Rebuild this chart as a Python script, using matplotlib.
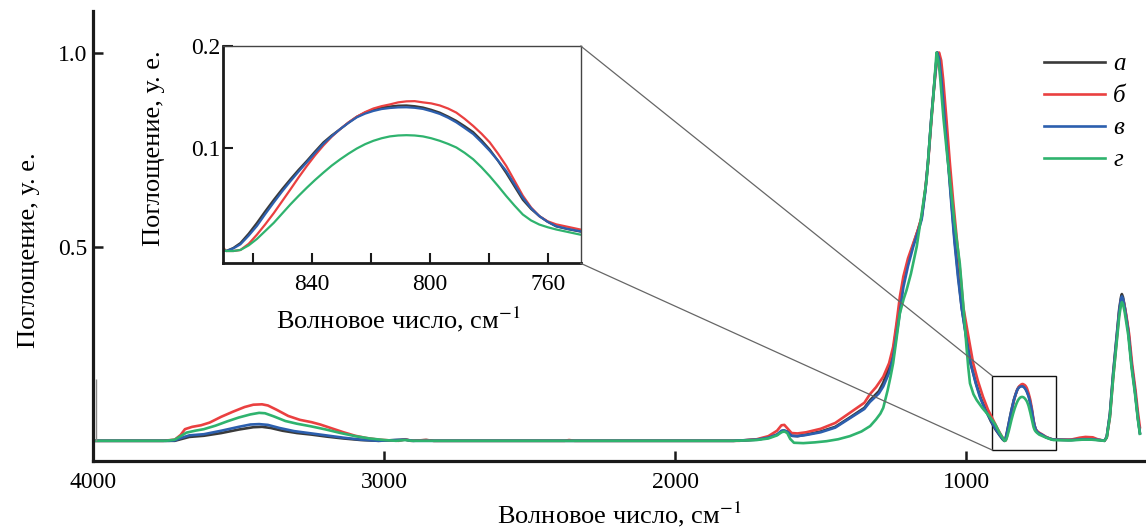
import matplotlib
matplotlib.use("Agg")
import matplotlib.pyplot as plt
from matplotlib.patches import Rectangle, ConnectionPatch

plt.rcParams['font.family'] = ['Liberation Serif', 'DejaVu Serif']
plt.rcParams['mathtext.fontset'] = 'stix'

# ---------------- data ----------------
labels = ['а', 'б', 'в', 'г']
colors = ['#3a3a3a', '#ea4040', '#2c5fae', '#2fb36e']

inset_wn = [869, 866.6, 864.2, 861.4, 858.6, 855.8, 852.9, 850.1, 847.3, 844.5, 841.7,
            838.9, 836.1, 833.3, 830.4, 827.6, 824.8, 822.0, 819.2, 816.4, 813.6, 810.8,
            808.0, 805.2, 802.4, 799.6, 796.7, 793.9, 791.1, 788.3, 785.4, 782.6, 779.8,
            777.0, 774.2, 771.4, 768.6, 765.8, 763.0, 760.2, 757.3, 753.3, 749.2]

inset_a = [0.0, 0.003, 0.0078, 0.017, 0.0275, 0.0388, 0.050, 0.0603, 0.070, 0.0793, 0.088,
           0.0972, 0.106, 0.1128, 0.119, 0.1253, 0.131, 0.135, 0.138, 0.140, 0.141, 0.1418,
           0.142, 0.1413, 0.140, 0.1378, 0.135, 0.1312, 0.127, 0.1218, 0.116, 0.108, 0.099,
           0.088, 0.076, 0.063, 0.050, 0.041, 0.034, 0.0285, 0.024, 0.0213, 0.019]
inset_b = [0.0, 0.0, 0.001, 0.007, 0.016, 0.026, 0.037, 0.0485, 0.060, 0.0718, 0.083,
           0.0935, 0.103, 0.1115, 0.119, 0.1255, 0.131, 0.1355, 0.139, 0.1413, 0.143, 0.145,
           0.146, 0.1462, 0.145, 0.144, 0.142, 0.139, 0.135, 0.129, 0.122, 0.1145, 0.106,
           0.095, 0.083, 0.0685, 0.054, 0.0425, 0.034, 0.029, 0.026, 0.0235, 0.021]
inset_c = [0.0, 0.0025, 0.0065, 0.015, 0.0245, 0.036, 0.0474, 0.058, 0.068, 0.0775, 0.0866,
           0.0958, 0.1046, 0.112, 0.119, 0.125, 0.1304, 0.134, 0.1366, 0.1385, 0.1395, 0.1401,
           0.1402, 0.1397, 0.1386, 0.1364, 0.1337, 0.130, 0.1255, 0.120, 0.1141, 0.1062, 0.0977,
           0.0882, 0.078, 0.065, 0.052, 0.0418, 0.034, 0.0285, 0.0242, 0.0215, 0.0193]
inset_d = [0.0, 0.0, 0.001, 0.0055, 0.0118, 0.0195, 0.0275, 0.0365, 0.0454, 0.0538, 0.0618,
           0.0694, 0.0765, 0.0833, 0.0895, 0.095, 0.100, 0.1042, 0.1075, 0.110, 0.1118, 0.1127,
           0.113, 0.1127, 0.1118, 0.110, 0.1075, 0.1045, 0.101, 0.0958, 0.0895, 0.0817, 0.073,
           0.0635, 0.0536, 0.0443, 0.0356, 0.0298, 0.0258, 0.0232, 0.021, 0.0185, 0.016]

# curve а (black)
wn_a = ([4000, 3760, 3720, 3700, 3670, 3620, 3560, 3500, 3450, 3420, 3390, 3350, 3300, 3250,
         3200, 3140, 3080, 3020, 2928, 2900, 2856, 2830, 1800, 1720, 1680, 1650, 1630, 1615,
         1600, 1580, 1550, 1500, 1450, 1400, 1350, 1330, 1300, 1285, 1265, 1251, 1240, 1228,
         1216, 1200, 1182, 1165, 1153, 1140, 1131, 1120, 1113, 1105, 1099, 1092, 1085, 1075,
         1062, 1050, 1040, 1028, 1015, 1000, 985, 965, 950, 930, 915, 900, 885, 875]
        + inset_wn +
        [740, 725, 710, 700, 650, 600, 570, 540, 525, 517, 506, 495, 483, 474, 468, 465, 461,
         455, 443, 432, 420, 410, 403])
abs_a = ([0, 0, 0.0, 0.004, 0.010, 0.013, 0.020, 0.029, 0.035, 0.036, 0.033, 0.026, 0.020, 0.016,
          0.011, 0.006, 0.002, 0.0, 0.003, 0.0, 0.002, 0.0, 0.0, 0.003, 0.008, 0.016, 0.026, 0.024,
          0.013, 0.012, 0.016, 0.024, 0.036, 0.060, 0.085, 0.105, 0.128, 0.150, 0.19, 0.23, 0.29, 0.35,
          0.41, 0.46, 0.505, 0.545, 0.575, 0.65, 0.72, 0.83, 0.89, 0.96, 1.0, 0.98, 0.93, 0.84,
          0.72, 0.61, 0.52, 0.43, 0.34, 0.27, 0.2, 0.145, 0.11, 0.075, 0.05, 0.03, 0.014, 0.004]
         + inset_a +
         [0.015, 0.009, 0.005, 0.003, 0.002, 0.004, 0.004, 0.002, 0.0, 0.01, 0.07, 0.174, 0.268,
          0.34, 0.37, 0.378, 0.37, 0.345, 0.285, 0.2, 0.13, 0.06, 0.02])

# curve б (red)
wn_b = ([4000, 3760, 3720, 3700, 3685, 3660, 3630, 3600, 3560, 3520, 3480, 3450, 3420, 3400,
         3370, 3330, 3290, 3250, 3220, 3180, 3140, 3100, 3060, 3020, 2980, 2950, 2928, 2910,
         2856, 2830, 2380, 2365, 2345, 1780, 1720, 1680, 1650, 1635, 1625, 1612, 1600, 1580,
         1550, 1500, 1450, 1400, 1350, 1331, 1310, 1285, 1265, 1251, 1240, 1228, 1216, 1200,
         1182, 1165, 1153, 1140, 1131, 1120, 1113, 1105, 1097, 1093, 1086, 1079, 1068, 1056,
         1045, 1033, 1020, 1010, 995, 976, 960, 942, 925, 907, 890, 878, 870]
        + inset_wn +
        [740, 725, 710, 700, 640, 610, 590, 565, 545, 525, 517, 506, 495, 483, 474, 468, 463,
         458, 450, 440, 430, 418, 410, 403])
abs_b = ([0, 0, 0.003, 0.015, 0.030, 0.036, 0.040, 0.047, 0.062, 0.075, 0.087, 0.093, 0.094, 0.091,
          0.080, 0.064, 0.054, 0.048, 0.042, 0.032, 0.022, 0.013, 0.007, 0.003, 0.001, 0.0, 0.004, 0.0,
          0.002, 0.0, 0.0, 0.002, 0.0, 0.0, 0.004, 0.012, 0.026, 0.040, 0.041, 0.030, 0.020, 0.019,
          0.022, 0.031, 0.046, 0.072, 0.098, 0.12, 0.138, 0.165, 0.20, 0.242, 0.30, 0.371, 0.423, 0.47,
          0.509, 0.545, 0.577, 0.65, 0.715, 0.82, 0.887, 0.95, 0.995, 1.0, 0.98, 0.93, 0.83, 0.715,
          0.62, 0.526, 0.43, 0.345, 0.28, 0.2, 0.155, 0.113, 0.08, 0.053, 0.028, 0.012, 0.003]
         + inset_b +
         [0.017, 0.010, 0.005, 0.003, 0.003, 0.008, 0.010, 0.009, 0.003, 0.0, 0.008, 0.06, 0.16,
          0.258, 0.33, 0.36, 0.366, 0.356, 0.325, 0.275, 0.2, 0.13, 0.075, 0.035])

# curve в (blue)
wn_c = ([4000, 3740, 3720, 3700, 3670, 3620, 3560, 3500, 3460, 3430, 3400, 3360, 3310, 3260,
         3200, 3140, 3080, 3020, 2928, 2905, 1800, 1720, 1680, 1650, 1635, 1625, 1612, 1600,
         1580, 1550, 1500, 1450, 1400, 1350, 1331, 1300, 1285, 1265, 1251, 1240, 1228, 1216,
         1200, 1182, 1165, 1153, 1140, 1131, 1120, 1113, 1105, 1100, 1093, 1085, 1073, 1062,
         1050, 1040, 1028, 1016, 1000, 985, 968, 953, 935, 913, 900, 885, 875]
        + inset_wn +
        [740, 725, 710, 700, 640, 600, 570, 540, 525, 517, 506, 495, 483, 474, 468, 465, 461,
         455, 443, 432, 420, 410, 403])
abs_c = ([0, 0, 0.001, 0.007, 0.014, 0.017, 0.026, 0.036, 0.042, 0.043, 0.041, 0.033, 0.025, 0.020,
          0.014, 0.008, 0.003, 0.0, 0.003, 0.0, 0.0, 0.003, 0.008, 0.016, 0.026, 0.027, 0.022, 0.013,
          0.012, 0.015, 0.022, 0.034, 0.058, 0.082, 0.100, 0.122, 0.140, 0.175, 0.215, 0.27, 0.33, 0.395,
          0.45, 0.50, 0.54, 0.57, 0.645, 0.72, 0.83, 0.89, 0.96, 1.0, 0.985, 0.93, 0.82, 0.715,
          0.60, 0.51, 0.42, 0.345, 0.265, 0.2, 0.15, 0.113, 0.08, 0.05, 0.032, 0.015, 0.005]
         + inset_c +
         [0.016, 0.009, 0.005, 0.003, 0.002, 0.004, 0.004, 0.002, 0.0, 0.01, 0.068, 0.17, 0.265,
          0.335, 0.365, 0.372, 0.366, 0.342, 0.282, 0.198, 0.128, 0.06, 0.02])

# curve г (green)
wn_d = ([4000, 3750, 3720, 3700, 3680, 3650, 3620, 3580, 3540, 3500, 3460, 3430, 3410, 3380,
         3340, 3300, 3250, 3200, 3150, 3100, 3050, 3000, 2960, 2928, 2905, 1800, 1720, 1680,
         1650, 1635, 1625, 1615, 1605, 1592, 1560, 1520, 1480, 1440, 1400, 1360, 1330, 1310,
         1295, 1285, 1270, 1260, 1251, 1240, 1228, 1215, 1205, 1190, 1170, 1150, 1136, 1125,
         1113, 1106, 1102, 1096, 1090, 1078, 1066, 1056, 1040, 1022, 1010, 999, 993, 987, 975,
         964, 945, 919, 900, 885, 873]
        + inset_wn +
        [740, 725, 710, 700, 640, 600, 570, 540, 525, 517, 506, 495, 483, 474, 468, 465, 461,
         455, 443, 432, 420, 410, 403])
abs_d = ([0, 0, 0.003, 0.012, 0.021, 0.026, 0.030, 0.039, 0.050, 0.060, 0.068, 0.072, 0.071, 0.063,
          0.051, 0.044, 0.037, 0.029, 0.020, 0.012, 0.006, 0.002, 0.0, 0.002, 0.0, 0.0, 0.002, 0.006,
          0.014, 0.022, 0.024, 0.020, 0.005, -0.005, -0.006, -0.004, -0.001, 0.004, 0.012, 0.024,
          0.038, 0.055, 0.07, 0.085, 0.13, 0.165, 0.2, 0.26, 0.328, 0.365, 0.388, 0.43, 0.5, 0.6,
          0.672, 0.78, 0.887, 0.96, 1.0, 0.98, 0.94, 0.83, 0.74, 0.672, 0.56, 0.457, 0.35, 0.242,
          0.19, 0.148, 0.12, 0.105, 0.085, 0.062, 0.042, 0.02, 0.006]
         + inset_d +
         [0.013, 0.008, 0.004, 0.002, 0.001, 0.003, 0.003, 0.001, 0.0, 0.008, 0.062, 0.16, 0.252,
          0.32, 0.35, 0.357, 0.352, 0.33, 0.272, 0.19, 0.122, 0.055, 0.018])

series_wn = [wn_a, wn_b, wn_c, wn_d]
series_abs = [abs_a, abs_b, abs_c, abs_d]

main_xticks = [4000, 3000, 2000, 1000]
main_yticks = [0.5, 1.0]
inset_xticks = [860, 840, 820, 800, 780, 760]
inset_xlabels = ['', '840', '', '800', '', '760']
inset_yticks = [0.1, 0.2]

xlabel = 'Волновое число, см$^{-1}$'
ylabel = 'Поглощение, у. е.'

# ---------------- figure ----------------
W, H = 1146, 529
fig = plt.figure(figsize=(W / 100, H / 100), dpi=100)
FS = 17      # tick labels
LFS = 19     # axis labels

ax = fig.add_axes([93.3 / W, 1 - 461 / H, (W - 93.3) / W, (461 - 11) / H])
for wn, ab, c, lab in zip(series_wn, series_abs, colors, labels):
    ax.plot(wn, ab, color=c, lw=1.9, label=lab, solid_joinstyle='round')
ax.vlines(3990, 0.0, 0.16, color='#888888', lw=1.0)

ax.set_xlim(4000, 382)
ax.set_ylim(-0.052, 1.107)
ax.set_xticks(main_xticks)
ax.set_yticks(main_yticks)
ax.set_yticklabels([f'{v:.1f}' for v in main_yticks])
for s in ['top', 'right']:
    ax.spines[s].set_visible(False)
for s in ['left', 'bottom']:
    ax.spines[s].set_linewidth(2.3)
    ax.spines[s].set_color('#1a1a1a')
ax.tick_params(direction='in', length=7, width=1.8, labelsize=FS, color='#1a1a1a')
ax.tick_params(axis='x', pad=8)
ax.tick_params(axis='y', pad=4)
ax.set_xlabel(xlabel, fontsize=LFS)
ax.xaxis.set_label_coords(0.5, -0.085)
ax.set_ylabel(ylabel, fontsize=LFS)
ax.yaxis.set_label_coords(-0.0506, 0.469)

leg = ax.legend(loc='upper left', bbox_to_anchor=(1044 / W, 1 - 53 / H),
                bbox_transform=fig.transFigure, frameon=False,
                handlelength=2.45, handletextpad=0.32, labelspacing=0.38,
                borderpad=0, borderaxespad=0, prop={'style': 'italic', 'size': 18})

# zoom box
ax.add_patch(Rectangle((693, -0.024), 910 - 693, 0.167 + 0.024, fill=False,
                       edgecolor='#111111', lw=1.0))

# ---------------- inset ----------------
axi = fig.add_axes([223.3 / W, 1 - 263.3 / H, (580.7 - 223.3) / W, (263.3 - 46) / H])
for wn, ab, c in zip(series_wn, series_abs, colors):
    axi.plot(wn, ab, color=c, lw=1.6, solid_joinstyle='round')
axi.set_xlim(870, 749)
axi.set_ylim(-0.012, 0.2)
axi.set_xticks(inset_xticks)
axi.set_xticklabels(inset_xlabels)
axi.set_yticks(inset_yticks)
axi.set_yticklabels([f'{v:.1f}' for v in inset_yticks])
for s in ['left', 'bottom']:
    axi.spines[s].set_linewidth(2.0)
    axi.spines[s].set_color('#1a1a1a')
for s in ['top', 'right']:
    axi.spines[s].set_linewidth(1.0)
    axi.spines[s].set_color('#444444')
axi.tick_params(direction='in', length=7, width=1.5, labelsize=FS, color='#1a1a1a')
axi.tick_params(axis='x', pad=8)
axi.tick_params(axis='y', pad=2)
axi.set_xlabel(xlabel, fontsize=LFS)
axi.xaxis.set_label_coords(0.49, -0.19)
axi.set_ylabel(ylabel, fontsize=LFS)
axi.yaxis.set_label_coords(-0.163, 0.528)

for ya, yd in [(1, 0.167), (0, -0.024)]:
    con = ConnectionPatch(xyA=(1, ya), coordsA=axi.transAxes,
                          xyB=(910, yd), coordsB=ax.transData,
                          color='#666666', lw=0.9)
    fig.add_artist(con)

fig.savefig('out.png', dpi=100)
